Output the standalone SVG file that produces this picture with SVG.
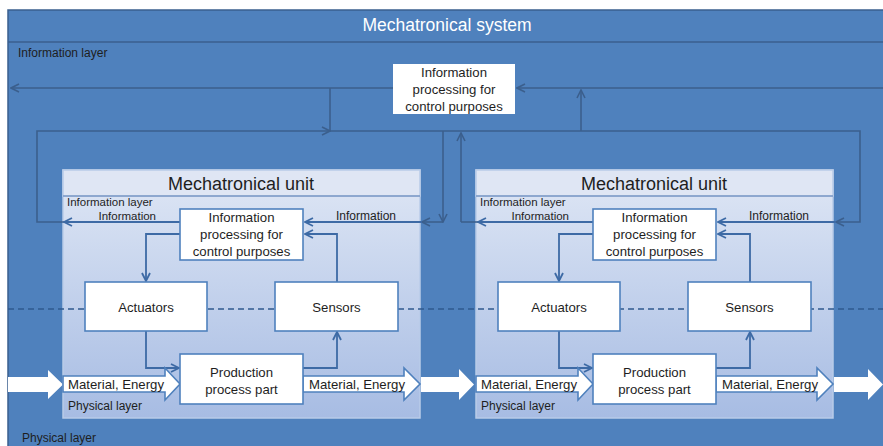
<svg xmlns="http://www.w3.org/2000/svg" width="883" height="446" viewBox="0 0 883 446">
<style>
text{font-family:"Liberation Sans",Arial,sans-serif;fill:#1e1e1e}
.title{fill:#ffffff;font-size:17.5px}
.utitle{font-size:18px;fill:#1e1e1e}
.sm{font-size:12px}
.us{font-size:11.5px}
.bt{font-size:13.2px}
.box{fill:#ffffff;stroke:#4f81bd;stroke-width:1.6}
.oc{fill:none;stroke:#3b5f8d;stroke-width:1.6}
.ic{fill:none;stroke:#3d6aa5;stroke-width:1.8}
.blk{fill:#ffffff;stroke:#4f81bd;stroke-width:1.6}
.wh{fill:#ffffff}
</style>
<defs>
<linearGradient id="ug" x1="0" y1="0" x2="0" y2="1">
<stop offset="0" stop-color="#dfe7f5"/>
<stop offset="1" stop-color="#a7bce3"/>
</linearGradient>
<marker id="ao" viewBox="0 0 10 10" refX="9" refY="5" markerWidth="10" markerHeight="10" markerUnits="userSpaceOnUse" orient="auto">
<path d="M1,1 L9,5 L1,9" fill="none" stroke="#3b5f8d" stroke-width="1.6"/>
</marker>
<marker id="ai" viewBox="0 0 10 10" refX="9" refY="5" markerWidth="10" markerHeight="10" markerUnits="userSpaceOnUse" orient="auto">
<path d="M1,1 L9,5 L1,9" fill="none" stroke="#3d6aa5" stroke-width="1.8"/>
</marker>
</defs>

<g id="system">
<rect x="8" y="10" width="880" height="445" fill="#4f81bd" stroke="#3a5f8f" stroke-width="1.5"/>
<line x1="8" y1="42" x2="883" y2="42" stroke="#3a5f8f" stroke-width="1.5"/>
<text class="title" x="447" y="31" text-anchor="middle">Mechatronical system</text>
<text class="sm" x="18" y="57">Information layer</text>
<text class="sm" x="22" y="442">Physical layer</text>
</g>

<g id="top-info">
<rect x="393" y="64" width="122" height="50" fill="#ffffff"/>
<text class="bt" x="454" y="77" text-anchor="middle">Information</text>
<text class="bt" x="454" y="94" text-anchor="middle">processing for</text>
<text class="bt" x="454" y="111" text-anchor="middle">control purposes</text>
</g>

<g id="unit1">
<rect x="63" y="170" width="357" height="248" fill="url(#ug)" stroke="#b9cbe8" stroke-width="1.5"/>
<rect x="63" y="170" width="357" height="26" fill="#dfe6f4" stroke="#b9cbe8" stroke-width="1.5"/>
<line x1="63" y1="196" x2="420" y2="196" stroke="#5a7fb3" stroke-width="1.2"/>
<text class="utitle" x="241" y="190" text-anchor="middle">Mechatronical unit</text>
<text class="us" x="67" y="206">Information layer</text>
<text class="us" x="156" y="219.5" text-anchor="end">Information</text>
<text class="sm" x="366" y="220" text-anchor="middle">Information</text>
<text class="sm" x="68" y="410">Physical layer</text>
</g>

<g id="unit2">
<rect x="476" y="170" width="357" height="248" fill="url(#ug)" stroke="#b9cbe8" stroke-width="1.5"/>
<rect x="476" y="170" width="357" height="26" fill="#dfe6f4" stroke="#b9cbe8" stroke-width="1.5"/>
<line x1="476" y1="196" x2="833" y2="196" stroke="#5a7fb3" stroke-width="1.2"/>
<text class="utitle" x="654" y="190" text-anchor="middle">Mechatronical unit</text>
<text class="us" x="480" y="206">Information layer</text>
<text class="us" x="569" y="219.5" text-anchor="end">Information</text>
<text class="sm" x="779" y="220" text-anchor="middle">Information</text>
<text class="sm" x="481" y="410">Physical layer</text>
</g>

<g id="layer-boundary">
<line x1="8" y1="309" x2="883" y2="309" stroke="#2f5a8f" stroke-width="1.3" stroke-dasharray="6,4"/>
</g>

<g id="connectors">
<path class="oc" d="M393,88 L11,88" marker-end="url(#ao)"/>
<path class="oc" d="M330,88 L330,131"/>
<path class="oc" d="M64,222 L37,222 L37,131 L330,131" marker-end="url(#ao)"/>
<path class="oc" d="M330,131 L860,131 L860,222 L836,222" marker-end="url(#ao)"/>
<path class="oc" d="M443,131 L443,222" marker-end="url(#ao)"/>
<path class="oc" d="M461,222 L461,133" marker-end="url(#ao)"/>
<path class="oc" d="M581,131 L581,90" marker-end="url(#ao)"/>
<path class="oc" d="M883,88 L517,88" marker-end="url(#ao)"/>
<path class="oc" d="M443,222 L422,222" marker-end="url(#ao)"/>
<path class="oc" d="M478,222 L461,222"/>
<path class="ic" d="M422,222 L305,222" marker-end="url(#ai)"/>
<path class="ic" d="M593,222 L478,222" marker-end="url(#ai)"/>
<path class="ic" d="M836,222 L718,222" marker-end="url(#ai)"/>
<path class="ic" d="M180,222 L64,222" marker-end="url(#ai)"/>
<path class="ic" d="M180,234 L146,234 L146,281" marker-end="url(#ai)"/>
<path class="ic" d="M337,282 L337,234 L305,234" marker-end="url(#ai)"/>
<path class="ic" d="M146,331 L146,368 L179,368" marker-end="url(#ai)"/>
<path class="ic" d="M303,368 L337,368 L337,332" marker-end="url(#ai)"/>
<path class="ic" d="M593,234 L559,234 L559,281" marker-end="url(#ai)"/>
<path class="ic" d="M750,282 L750,234 L718,234" marker-end="url(#ai)"/>
<path class="ic" d="M559,331 L559,368 L592,368" marker-end="url(#ai)"/>
<path class="ic" d="M716,368 L750,368 L750,332" marker-end="url(#ai)"/>
</g>

<g id="flows">
<polygon class="wh" points="8,377 48,377 48,370 63,384.5 48,399 48,392 8,392"/>
<polygon class="wh" points="421,377 459,377 459,369 474,384.5 459,400 459,392 421,392"/>
<polygon class="wh" points="834,377 868,377 868,369 883,384.5 868,400 868,392 834,392"/>
<polygon class="blk" points="63,376 165,376 165,368 180,384 165,400 165,392 63,392"/>
<polygon class="blk" points="303,376 404,376 404,368 420,384 404,400 404,392 303,392"/>
<polygon class="blk" points="476,376 578,376 578,368 593,384 578,400 578,392 476,392"/>
<polygon class="blk" points="716,376 817,376 817,368 833,384 817,400 817,392 716,392"/>
<text class="bt" x="68" y="389">Material, Energy</text>
<text class="bt" x="309" y="389">Material, Energy</text>
<text class="bt" x="481" y="389">Material, Energy</text>
<text class="bt" x="722" y="389">Material, Energy</text>
</g>

<g id="u1-info">
<rect class="box" x="180" y="209" width="123" height="51"/>
<text class="bt" x="241.5" y="222" text-anchor="middle">Information</text>
<text class="bt" x="241.5" y="239" text-anchor="middle">processing for</text>
<text class="bt" x="241.5" y="256" text-anchor="middle">control purposes</text>
</g>
<g id="u1-actuators">
<rect class="box" x="85" y="282" width="122" height="49"/>
<text class="bt" x="146" y="312" text-anchor="middle">Actuators</text>
</g>
<g id="u1-sensors">
<rect class="box" x="275" y="282" width="123" height="49"/>
<text class="bt" x="336.5" y="312" text-anchor="middle">Sensors</text>
</g>
<g id="u1-production">
<rect class="box" x="180" y="354" width="123" height="50"/>
<text class="bt" x="241.5" y="377" text-anchor="middle">Production</text>
<text class="bt" x="241.5" y="394" text-anchor="middle">process part</text>
</g>

<g id="u2-info">
<rect class="box" x="593" y="209" width="123" height="51"/>
<text class="bt" x="654.5" y="222" text-anchor="middle">Information</text>
<text class="bt" x="654.5" y="239" text-anchor="middle">processing for</text>
<text class="bt" x="654.5" y="256" text-anchor="middle">control purposes</text>
</g>
<g id="u2-actuators">
<rect class="box" x="498" y="282" width="122" height="49"/>
<text class="bt" x="559" y="312" text-anchor="middle">Actuators</text>
</g>
<g id="u2-sensors">
<rect class="box" x="688" y="282" width="123" height="49"/>
<text class="bt" x="749.5" y="312" text-anchor="middle">Sensors</text>
</g>
<g id="u2-production">
<rect class="box" x="593" y="354" width="123" height="50"/>
<text class="bt" x="654.5" y="377" text-anchor="middle">Production</text>
<text class="bt" x="654.5" y="394" text-anchor="middle">process part</text>
</g>
</svg>
